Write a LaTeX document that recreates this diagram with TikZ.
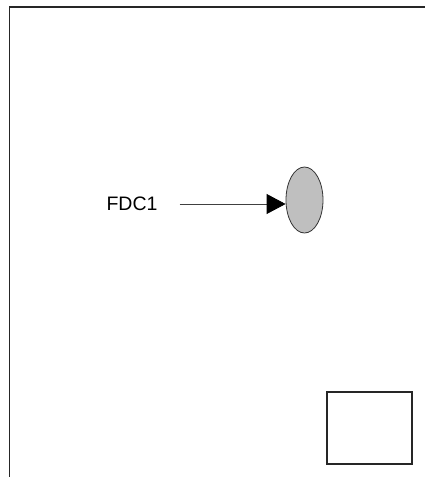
\documentclass[tikz,border=0pt]{standalone}
\usepackage{fontspec}
\setmainfont{Liberation Sans}
\usetikzlibrary{positioning}
\usetikzlibrary{arrows.meta,shapes.geometric}
\tikzset{
    every picture/.style={>=stealth,auto,node distance=2cm},
    frameline/.style={draw=black!85,line width=1.6pt},
    disk/.style={draw=black!80,fill=black!25,ellipse,inner sep=0pt,line width=0.8pt},
    unitbox/.style={draw=black!85,rectangle,inner sep=0pt,line width=1.4pt},
}

\begin{document}
\begin{tikzpicture}[x=1pt,y=-1pt]
\useasboundingbox (0,0) rectangle (425,477);

% frame
\coordinate (tl) at (9.5,7);
\coordinate (bl) at (9.5,477);
\coordinate (tr) at (425,7);
\draw[frameline] (bl) -- (tl) -- (tr);

\node[font=\fontsize{19.5}{22}\selectfont,inner sep=0pt] (fdc) at (132,204) {FDC1};
\node[disk,minimum width=37pt,minimum height=66pt] (drive) at (304.5,200) {};
\node[unitbox,minimum width=85pt,minimum height=72pt] (unit) at (369.5,428) {};

\draw[-{Triangle[length=19pt,width=20pt,black]},draw=black!75,line width=0.8pt,shorten <=22pt]
  (fdc.east) -- (fdc.east -| drive.west);

\end{tikzpicture}
\end{document}
